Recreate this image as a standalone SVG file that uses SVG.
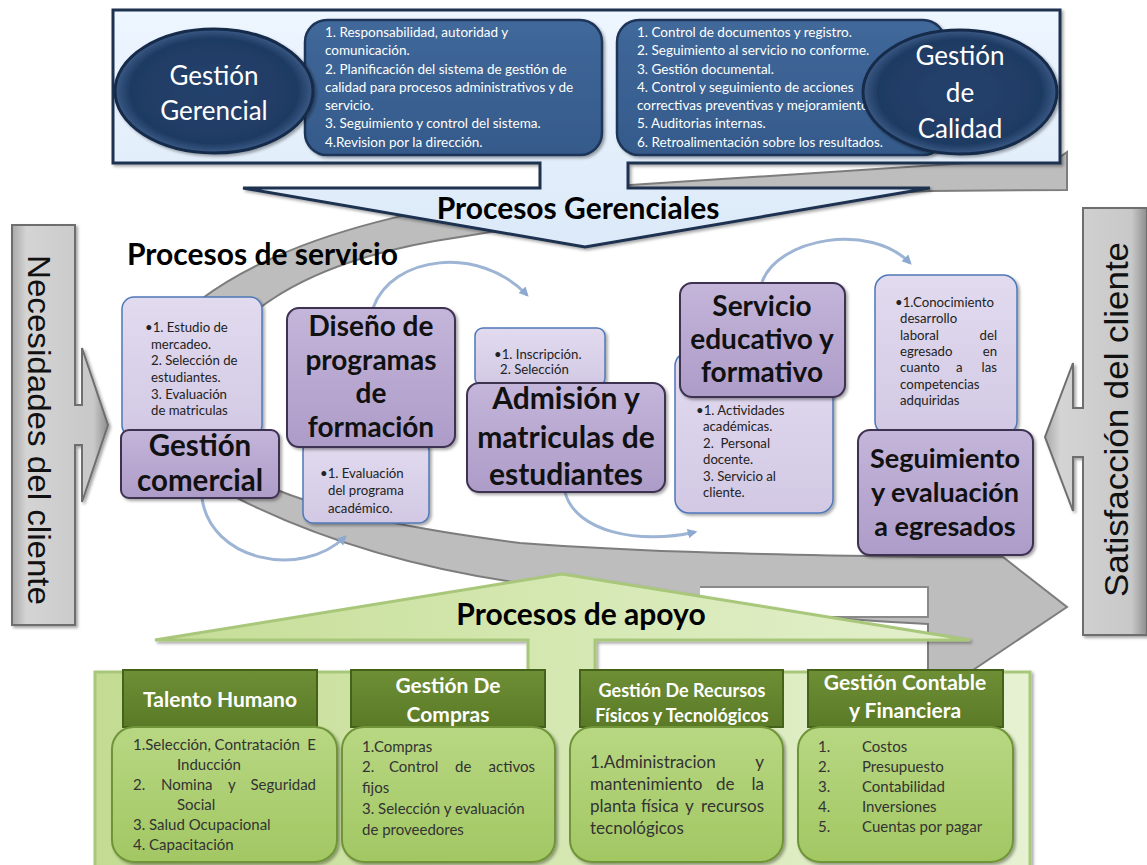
<svg xmlns="http://www.w3.org/2000/svg" width="1147" height="865" viewBox="0 0 1147 865">
<defs>
<linearGradient id="gSide" x1="0" y1="0" x2="1" y2="0"><stop offset="0" stop-color="#a8a8a8"/><stop offset="0.15" stop-color="#d4d4d4"/><stop offset="0.85" stop-color="#c8c8c8"/><stop offset="1" stop-color="#8e8e8e"/></linearGradient>
<linearGradient id="gBlueLight" x1="0" y1="0" x2="0" y2="1"><stop offset="0" stop-color="#eef6ff"/><stop offset="1" stop-color="#dbe9f8"/></linearGradient>
<linearGradient id="gDarkBlue" x1="0" y1="0" x2="0" y2="1"><stop offset="0" stop-color="#40689a"/><stop offset="1" stop-color="#345a8a"/></linearGradient>
<radialGradient id="gEll" cx="0.5" cy="0.5" r="0.5"><stop offset="0" stop-color="#24426d"/><stop offset="0.85" stop-color="#1f3b63"/><stop offset="1" stop-color="#3b5a85"/></radialGradient>
<linearGradient id="gTitle" x1="0" y1="0" x2="0" y2="1"><stop offset="0" stop-color="#c4b5da"/><stop offset="1" stop-color="#ad9cc8"/></linearGradient>
<linearGradient id="gInfo" x1="0" y1="0" x2="0" y2="1"><stop offset="0" stop-color="#e2dbef"/><stop offset="1" stop-color="#d2c8e4"/></linearGradient>
<linearGradient id="gGreenHead" x1="0" y1="0" x2="1" y2="0"><stop offset="0" stop-color="#c3db92"/><stop offset="0.5" stop-color="#d5e8b2"/><stop offset="1" stop-color="#e6f1d2"/></linearGradient>
<linearGradient id="gHdr" x1="0" y1="0" x2="0" y2="1"><stop offset="0" stop-color="#6e8f35"/><stop offset="1" stop-color="#5a7a27"/></linearGradient>
<linearGradient id="gLeaf" x1="0" y1="0" x2="0" y2="1"><stop offset="0" stop-color="#b8d782"/><stop offset="1" stop-color="#a2c763"/></linearGradient>
<filter id="sh" x="-10%" y="-10%" width="125%" height="125%"><feDropShadow dx="2" dy="2" stdDeviation="1.5" flood-color="#000" flood-opacity="0.35"/></filter>
<marker id="arr" viewBox="0 0 10 10" refX="6" refY="5" markerWidth="4" markerHeight="4" orient="auto"><path d="M0,1 L8,5 L0,9 Z" fill="#8ea9cf"/></marker>
</defs>
<style>
.side{fill:url(#gSide);stroke:#6e6e6e;stroke-width:2}
.sidetxt{font-family:"Liberation Sans",Arial,sans-serif;fill:#111}
.band{fill:#bdbdbd;stroke:#7d7d7d;stroke-width:2}
.gap{fill:#fff;stroke:#8a8a8a;stroke-width:2}
.title{fill:url(#gTitle);stroke:#3d3050;stroke-width:2}
.info{fill:url(#gInfo);stroke:#4f78b8;stroke-width:1.5}
.ttl{font-family:Lato,"Liberation Sans",sans-serif;font-weight:bold;fill:#111;text-anchor:middle}
.inf{font-family:Lato,"Liberation Sans",sans-serif;font-size:13.2px;fill:#222}
.wl{font-family:Lato,"Liberation Sans",sans-serif;font-size:13.5px;fill:#fff}
.ell{fill:url(#gEll);stroke:#142a4a;stroke-width:3}
.et{font-family:Lato,"Liberation Sans",sans-serif;font-size:26px;fill:#fff;text-anchor:middle}
.dbox{fill:url(#gDarkBlue);stroke:#1e3658;stroke-width:2.5}
.hdr{fill:url(#gHdr);stroke:#45621b;stroke-width:2}
.ht{font-family:Lato,"Liberation Sans",sans-serif;font-weight:bold;fill:#fff;text-anchor:middle}
.leaf{fill:url(#gLeaf);stroke:#6f9438;stroke-width:2}
.lt{font-family:Lato,"Liberation Sans",sans-serif;font-size:15px;fill:#333}
.lr{font-family:Lato,"Liberation Sans",sans-serif;font-size:17px;fill:#333}
.arc{fill:none;stroke:#9db4d4;stroke-width:3}
.big{font-family:Lato,"Liberation Sans",sans-serif;font-weight:bold;fill:#000}
.e{text-anchor:end}
</style>

<!-- background gaps -->
<path class="gap" d="M113,163 H540 V188 H243" />
<rect x="628" y="163" width="432" height="26" fill="#fff"/>

<!-- gray cycle band -->
<g id="cycle-band">
<path class="band" d="M1067,152 L1060,157 L630,185 C470,195 300,225 200,300 C140,360 150,460 237,498 C330,545 430,570 520,583 C650,600 800,618 928,624 L928,670 L973,670 L1067,607 L1003,557 L928,557 C800,555 650,553 520,543 C420,530 340,515 277,490 C230,470 205,420 215,370 C225,320 300,260 460,237 C560,220 700,200 930,191 L1067,190 Z"/>
<path class="gap" d="M700,587 H928 V617 H700"/>
</g>

<!-- Procesos Gerenciales (top) -->
<g id="procesos-gerenciales">
<path d="M113,10 H1060 V163 H628 V188 H930 L585,247 L243,188 H540 V163 H113 Z" fill="url(#gBlueLight)" stroke="#1f3050" stroke-width="3" filter="url(#sh)"/>
<text class="big" x="578" y="219" font-size="30" text-anchor="middle">Procesos Gerenciales</text>
</g>

<g id="gestion-gerencial">
<rect class="dbox" x="305" y="20" width="297" height="135" rx="22" filter="url(#sh)"/>
<text class="wl" x="325" y="37">1. Responsabilidad, autoridad y</text>
<text class="wl" x="325" y="55">comunicación.</text>
<text class="wl" x="325" y="74">2. Planificación del sistema de gestión de</text>
<text class="wl" x="325" y="92">calidad para procesos administrativos y de</text>
<text class="wl" x="325" y="110">servicio.</text>
<text class="wl" x="325" y="128">3. Seguimiento y control del sistema.</text>
<text class="wl" x="325" y="147">4.Revision por la dirección.</text>
<ellipse class="ell" cx="214" cy="91" rx="99" ry="62" filter="url(#sh)"/>
<text class="et" x="214" y="85">Gestión</text>
<text class="et" x="214" y="120">Gerencial</text>
</g>

<g id="gestion-calidad">
<rect class="dbox" x="617" y="20" width="328" height="135" rx="22" filter="url(#sh)"/>
<text class="wl" x="637" y="37">1. Control de documentos y registro.</text>
<text class="wl" x="637" y="55">2. Seguimiento al servicio no conforme.</text>
<text class="wl" x="637" y="74">3. Gestión documental.</text>
<text class="wl" x="637" y="92">4. Control y seguimiento de acciones</text>
<text class="wl" x="637" y="110">correctivas preventivas y mejoramiento.</text>
<text class="wl" x="637" y="128">5. Auditorias internas.</text>
<text class="wl" x="637" y="147">6. Retroalimentación sobre los resultados.</text>
<ellipse class="ell" cx="960" cy="92" rx="97" ry="62" filter="url(#sh)"/>
<text class="et" x="960" y="65">Gestión</text>
<text class="et" x="960" y="102">de</text>
<text class="et" x="960" y="138">Calidad</text>
</g>

<!-- side arrows -->
<g id="necesidades-cliente">
<path class="side" d="M12,225 H75 V405 H82 V348 L108,425 L82,502 V445 H75 V625 H12 Z" filter="url(#sh)"/>
<text class="sidetxt" transform="translate(28,255) rotate(90)" font-size="31" textLength="350" lengthAdjust="spacingAndGlyphs">Necesidades del cliente</text>
</g>
<g id="satisfaccion-cliente">
<path class="side" d="M1083,208 H1147 V635 H1083 V457 H1073 V511 L1045,437 L1073,363 V408 H1083 Z" filter="url(#sh)"/>
<text class="sidetxt" transform="translate(1128,597) rotate(-90)" font-size="34" textLength="355" lengthAdjust="spacingAndGlyphs">Satisfacción del cliente</text>
</g>

<text id="procesos-servicio" class="big" x="127" y="265" font-size="30">Procesos de servicio</text>

<!-- connectors -->
<g id="connectors">
<path class="arc" d="M202,498 C210,560 300,580 345,537" marker-end="url(#arr)"/>
<path class="arc" d="M373,308 C392,255 480,245 527,295" marker-end="url(#arr)"/>
<path class="arc" d="M565,492 C575,532 640,545 695,532" marker-end="url(#arr)"/>
<path class="arc" d="M762,282 C778,238 870,222 910,263" marker-end="url(#arr)"/>
</g>

<!-- service nodes -->
<g id="gestion-comercial">
<rect class="info" x="122" y="297" width="140" height="140" rx="12" filter="url(#sh)"/>
<text class="inf" x="145" y="332">•1. Estudio de</text>
<text class="inf" x="151" y="349">mercadeo.</text>
<text class="inf" x="151" y="365">2. Selección de</text>
<text class="inf" x="151" y="382">estudiantes.</text>
<text class="inf" x="151" y="399">3. Evaluación</text>
<text class="inf" x="151" y="415">de matriculas</text>
<rect class="title" x="121" y="430" width="158" height="68" rx="8" filter="url(#sh)"/>
<text class="ttl" x="200" y="456" font-size="29.5">Gestión</text>
<text class="ttl" x="200" y="491" font-size="29.5">comercial</text>
</g>

<g id="diseno-programas">
<rect class="info" x="303" y="440" width="126" height="83" rx="10" filter="url(#sh)"/>
<text class="inf" x="320" y="478">•1. Evaluación</text>
<text class="inf" x="328" y="495">del programa</text>
<text class="inf" x="328" y="513">académico.</text>
<rect class="title" x="287" y="308" width="168" height="139" rx="12" filter="url(#sh)"/>
<text class="ttl" x="371" y="336" font-size="28">Diseño de</text>
<text class="ttl" x="371" y="370" font-size="28">programas</text>
<text class="ttl" x="371" y="403" font-size="28">de</text>
<text class="ttl" x="371" y="437" font-size="28">formación</text>
</g>

<g id="admision-matriculas">
<rect class="info" x="475" y="328" width="130" height="58" rx="8" filter="url(#sh)"/>
<text class="inf" x="494" y="359">•1. Inscripción.</text>
<text class="inf" x="500" y="374">2. Selección</text>
<rect class="title" x="467" y="383" width="198" height="109" rx="12" filter="url(#sh)"/>
<text class="ttl" x="566" y="409" font-size="30">Admisión y</text>
<text class="ttl" x="566" y="448" font-size="30">matriculas de</text>
<text class="ttl" x="566" y="485" font-size="30">estudiantes</text>
</g>

<g id="servicio-educativo">
<rect class="info" x="675" y="352" width="158" height="161" rx="14" filter="url(#sh)"/>
<text class="inf" x="696" y="415">•1. Actividades</text>
<text class="inf" x="703" y="431">académicas.</text>
<text class="inf" x="703" y="448" xml:space="preserve">2.  Personal</text>
<text class="inf" x="703" y="464">docente.</text>
<text class="inf" x="703" y="481">3. Servicio al</text>
<text class="inf" x="703" y="497">cliente.</text>
<rect class="title" x="680" y="283" width="165" height="114" rx="12" filter="url(#sh)"/>
<text class="ttl" x="762" y="316" font-size="28">Servicio</text>
<text class="ttl" x="762" y="349" font-size="28">educativo y</text>
<text class="ttl" x="762" y="382" font-size="28">formativo</text>
</g>

<g id="seguimiento-egresados">
<rect class="info" x="875" y="275" width="142" height="160" rx="14" filter="url(#sh)"/>
<text class="inf" x="895" y="307">•1.Conocimiento</text>
<text class="inf" x="900" y="323">desarrollo</text>
<text class="inf" x="900" y="340">laboral</text><text class="inf e" x="997" y="340">del</text>
<text class="inf" x="900" y="356">egresado</text><text class="inf e" x="997" y="356">en</text>
<text class="inf" x="900" y="372">cuanto</text><text class="inf" x="956" y="372">a</text><text class="inf e" x="997" y="372">las</text>
<text class="inf" x="900" y="389">competencias</text>
<text class="inf" x="900" y="405">adquiridas</text>
<rect class="title" x="858" y="430" width="175" height="125" rx="12" filter="url(#sh)"/>
<text class="ttl" x="945" y="468" font-size="27">Seguimiento</text>
<text class="ttl" x="945" y="502" font-size="27">y evaluación</text>
<text class="ttl" x="945" y="536" font-size="27">a egresados</text>
</g>

<!-- Procesos de apoyo (bottom) -->
<g id="procesos-apoyo">
<path d="M95,672 H528 V640 H155 L562,574 L970,640 H595 V672 H1030 V868 H95 Z" fill="url(#gGreenHead)" stroke="#a9c77a" stroke-width="3" filter="url(#sh)"/>
<text class="big" x="581" y="625" font-size="30" text-anchor="middle">Procesos de apoyo</text>
</g>

<g id="talento-humano">
<rect class="hdr" x="123" y="670" width="194" height="57"/>
<text class="ht" x="220" y="707" font-size="21">Talento Humano</text>
<rect class="leaf" x="112" y="727" width="225" height="135" rx="22" filter="url(#sh)"/>
<text class="lt" x="133" y="750">1.Selección, Contratación</text><text class="lt e" x="316" y="750">E</text>
<text class="lt" x="177" y="770">Inducción</text>
<text class="lt" x="133" y="790">2.</text><text class="lt" x="161" y="790">Nomina</text><text class="lt" x="228" y="790">y</text><text class="lt e" x="316" y="790">Seguridad</text>
<text class="lt" x="177" y="810">Social</text>
<text class="lt" x="133" y="830">3. Salud Ocupacional</text>
<text class="lt" x="133" y="850">4. Capacitación</text>
</g>

<g id="gestion-compras">
<rect class="hdr" x="351" y="670" width="194" height="57"/>
<text class="ht" x="448" y="693" font-size="21">Gestión De</text>
<text class="ht" x="448" y="722" font-size="21">Compras</text>
<rect class="leaf" x="342" y="727" width="213" height="135" rx="22" filter="url(#sh)"/>
<text class="lt" x="362" y="752">1.Compras</text>
<text class="lt" x="362" y="772">2.</text><text class="lt" x="389" y="772">Control</text><text class="lt" x="455" y="772">de</text><text class="lt e" x="535" y="772">activos</text>
<text class="lt" x="362" y="793">fijos</text>
<text class="lt" x="362" y="814">3. Selección y evaluación</text>
<text class="lt" x="362" y="835">de proveedores</text>
</g>

<g id="gestion-recursos">
<rect class="hdr" x="580" y="670" width="203" height="57"/>
<text class="ht" x="682" y="697" font-size="18">Gestión De Recursos</text>
<text class="ht" x="682" y="722" font-size="18">Físicos y Tecnológicos</text>
<rect class="leaf" x="570" y="727" width="213" height="135" rx="22" filter="url(#sh)"/>
<text class="lr" x="590" y="768">1.Administracion</text><text class="lr e" x="764" y="768">y</text>
<text class="lr" x="590" y="790">mantenimiento</text><text class="lr" x="716" y="790">de</text><text class="lr e" x="764" y="790">la</text>
<text class="lr" x="590" y="812">planta</text><text class="lr" x="641" y="812">física</text><text class="lr" x="685" y="812">y</text><text class="lr e" x="764" y="812">recursos</text>
<text class="lr" x="590" y="834">tecnológicos</text>
</g>

<g id="gestion-contable">
<rect class="hdr" x="808" y="670" width="195" height="57"/>
<text class="ht" x="905" y="690" font-size="21">Gestión Contable</text>
<text class="ht" x="905" y="718" font-size="21">y Financiera</text>
<rect class="leaf" x="798" y="727" width="215" height="135" rx="22" filter="url(#sh)"/>
<text class="lt" x="818" y="752">1.</text><text class="lt" x="862" y="752">Costos</text>
<text class="lt" x="818" y="772">2.</text><text class="lt" x="862" y="772">Presupuesto</text>
<text class="lt" x="818" y="792">3.</text><text class="lt" x="862" y="792">Contabilidad</text>
<text class="lt" x="818" y="812">4.</text><text class="lt" x="862" y="812">Inversiones</text>
<text class="lt" x="818" y="832">5.</text><text class="lt" x="862" y="832">Cuentas por pagar</text>
</g>
</svg>
